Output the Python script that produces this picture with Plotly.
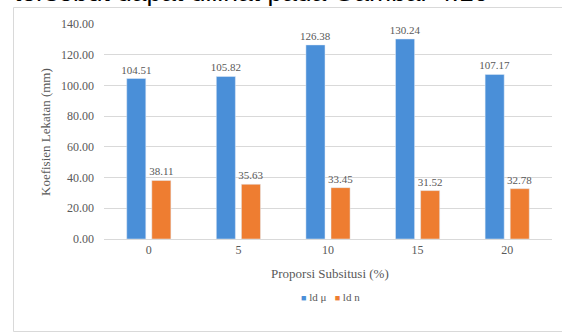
import plotly.graph_objects as go

# Bond coefficient per substitution proportion
categories = ["0", "5", "10", "15", "20"]
ld_mu = [104.51, 105.82, 126.38, 130.24, 107.17]
ld_n = [38.11, 35.63, 33.45, 31.52, 32.78]
series_names = ["ld μ", "ld n"]
y_ticks = [0, 20, 40, 60, 80, 100, 120, 140]
y_tick_text = [f"{v:.2f}" for v in y_ticks]

W, H = 562, 336
L, R, T, B = 104, 10, 24, 97
pw, ph = W - L - R, H - T - B

def px_x(p):
    return (p - L) / pw

def px_y(p):
    return (H - B - p) / ph

serif = "Liberation Serif, Times New Roman, serif"
grey = "#595959"
colors = ["#4A8FD8", "#EE7D31"]

fig = go.Figure()
for name, vals, col in zip(series_names, [ld_mu, ld_n], colors):
    fig.add_trace(go.Bar(
        x=categories, y=vals, name=name, marker_color=col,
        text=[f"{v:.2f}" for v in vals], textposition="outside",
        constraintext="none", cliponaxis=False,
        textfont=dict(family=serif, size=11, color=grey),
    ))

# compact legend line: coloured square keys followed by series names
legend_text = "   ".join(
    f"<span style='color:{c};font-size:9px'>■</span> {n}"
    for n, c in zip(series_names, colors)
)

fig.update_layout(
    width=W, height=H,
    margin=dict(l=L, r=R, t=T, b=B),
    paper_bgcolor="white", plot_bgcolor="white",
    barmode="group", bargap=0.44, bargroupgap=0.24,
    font=dict(family=serif, size=12, color=grey),
    showlegend=False,
    xaxis=dict(showgrid=False, showline=True, linecolor="#d9d9d9",
               ticks="", tickfont=dict(family=serif, size=12, color=grey)),
    yaxis=dict(range=[0, 140], tickvals=y_ticks, ticktext=y_tick_text,
               showgrid=True, gridcolor="#d9d9d9", gridwidth=1,
               zeroline=False, showline=False, ticks="",
               ticklabelstandoff=9,
               tickfont=dict(family=serif, size=12, color=grey)),
    annotations=[
        dict(text="Koefisien Lekatan (mm)", xref="paper", yref="paper",
             x=px_x(45), y=px_y(132), textangle=-90, showarrow=False,
             xanchor="center", yanchor="middle",
             font=dict(family=serif, size=13, color=grey)),
        dict(text="Proporsi Subsitusi (%)", xref="paper", yref="paper",
             x=px_x(330), y=px_y(273), showarrow=False,
             xanchor="center", yanchor="middle",
             font=dict(family=serif, size=13, color=grey)),
        dict(text=legend_text, xref="paper", yref="paper",
             x=px_x(330), y=px_y(297), showarrow=False,
             xanchor="center", yanchor="middle",
             font=dict(family=serif, size=11, color=grey)),
        dict(text="tersebut dapat dilihat pada Gambar 4.10", xref="paper",
             yref="paper", x=px_x(12), y=px_y(9), showarrow=False,
             xanchor="left", yanchor="bottom",
             font=dict(family="Liberation Sans, Arial, sans-serif", size=26.5,
                       color="black")),
    ],
    shapes=[
        dict(type="rect", xref="paper", yref="paper",
             x0=px_x(13.5), x1=px_x(575), y0=px_y(331.5), y1=px_y(7.5),
             line=dict(color="#d9d9d9", width=1), layer="below"),
    ],
)

fig.write_html("out.html")
